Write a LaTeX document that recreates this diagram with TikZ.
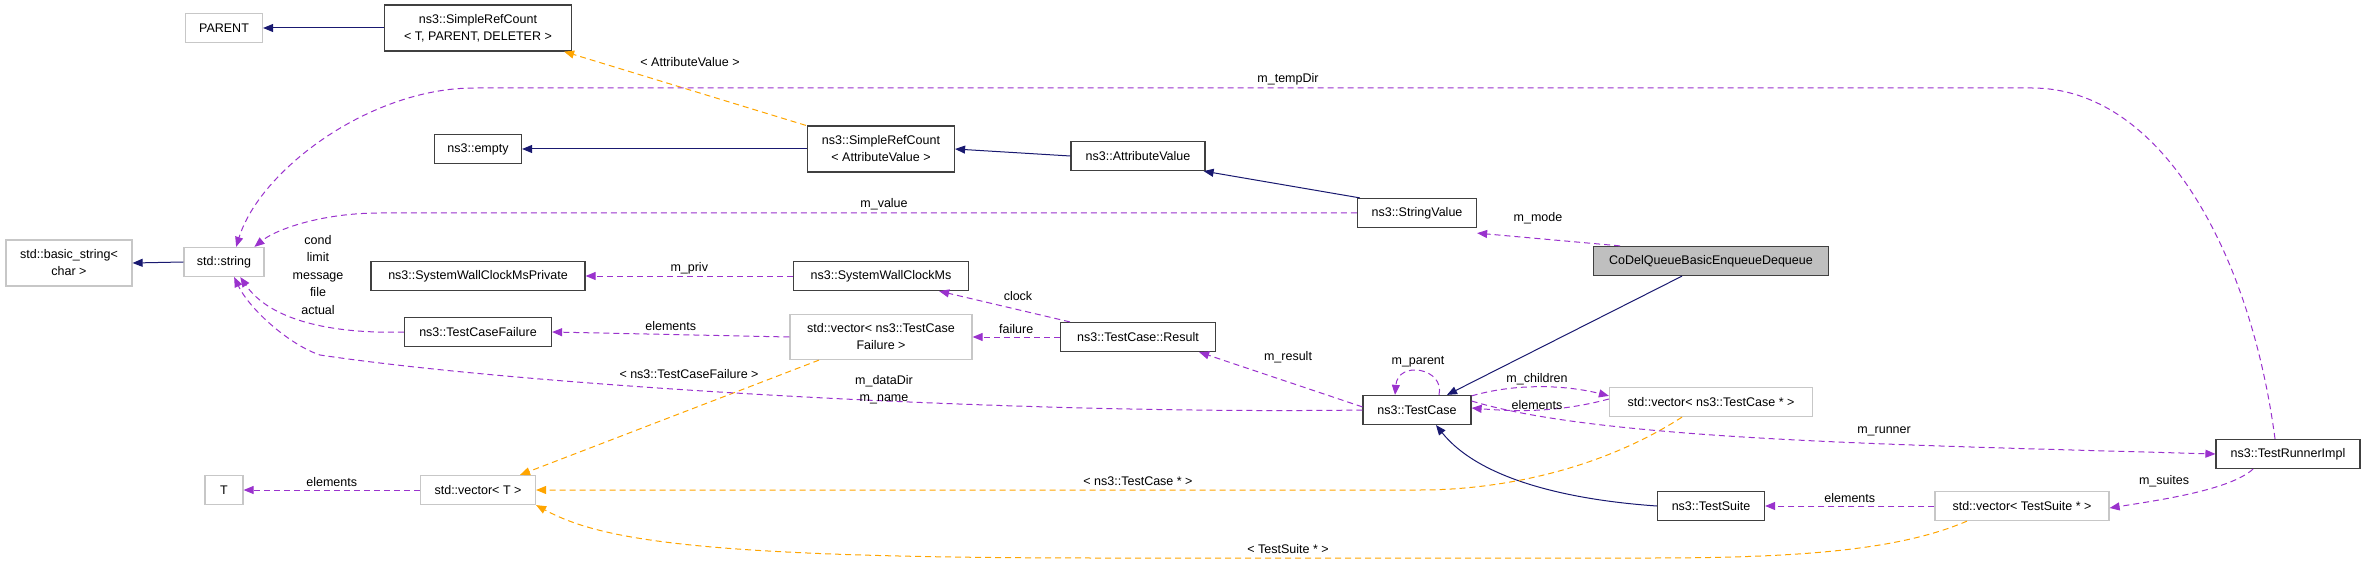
\documentclass[tikz,border=0pt]{standalone}
\usepackage{fontspec}
\setmainfont{Liberation Sans}
\usetikzlibrary{arrows.meta,calc}
\definecolor{nav}{HTML}{191970}
\definecolor{pur}{HTML}{9A32CD}
\definecolor{org}{HTML}{FFA500}
\begin{document}
\begin{tikzpicture}[x=1pt,y=-1pt,
  box/.style={draw=black!75,line width=1.2pt,fill=white,inner sep=0pt,minimum height=29,align=center,font=\fontsize{12.5}{17}\selectfont},
  ext/.style={box,draw=black!22},
  inh/.style={draw=nav,line width=1pt,-{Triangle[length=10pt,width=8pt]}},
  use/.style={draw=pur,line width=1pt,dash pattern=on 6pt off 4pt,-{Triangle[length=10pt,width=8pt]}},
  tpl/.style={draw=org,line width=1pt,dash pattern=on 6pt off 4pt,-{Triangle[length=10pt,width=8pt]}},
  lab/.style={font=\fontsize{12.5}{17}\selectfont,inner sep=1pt}]
\useasboundingbox (0,0) rectangle (2365,561);
\node[ext,minimum width=77] (par) at (224,28) {PARENT};
\node[box,minimum width=187,minimum height=46] (srct) at (478,28) {ns3::SimpleRefCount\\< T, PARENT, DELETER >};
\node[box,minimum width=87] (emp) at (478,149) {ns3::empty};
\node[box,minimum width=147,minimum height=46] (srca) at (881,149) {ns3::SimpleRefCount\\< AttributeValue >};
\node[box,minimum width=134] (av) at (1138,156) {ns3::AttributeValue};
\node[box,minimum width=119] (sv) at (1417,213) {ns3::StringValue};
\node[box,minimum width=235,fill=black!25] (cd) at (1711,261) {CoDelQueueBasicEnqueueDequeue};
\node[ext,minimum width=126,minimum height=46] (bs) at (69,263) {std::basic\_string<\\char >};
\node[ext,minimum width=80] (str) at (224,262) {std::string};
\node[box,minimum width=214] (swp) at (478,276) {ns3::SystemWallClockMsPrivate};
\node[box,minimum width=175] (sw) at (881,276) {ns3::SystemWallClockMs};
\node[box,minimum width=147] (tcf) at (478,332) {ns3::TestCaseFailure};
\node[ext,minimum width=182,minimum height=45] (vtcf) at (881,337) {std::vector< ns3::TestCase\\Failure >};
\node[box,minimum width=155] (res) at (1138,337) {ns3::TestCase::Result};
\node[box,minimum width=108] (tc) at (1417,410) {ns3::TestCase};
\node[ext,minimum width=203] (vtc) at (1711,402) {std::vector< ns3::TestCase * >};
\node[box,minimum width=144] (tri) at (2288,454) {ns3::TestRunnerImpl};
\node[ext,minimum width=38] (t) at (224,490) {T};
\node[ext,minimum width=115] (vt) at (478,490) {std::vector< T >};
\node[box,minimum width=107] (ts) at (1711,506) {ns3::TestSuite};
\node[ext,minimum width=174] (vts) at (2022,506) {std::vector< TestSuite * >};
% inheritance
\draw[inh] (srct.west) -- (par.east);
\draw[inh] (srca.west) -- (emp.east);
\draw[inh] (av.west) -- (srca.east);
\draw[inh] ([xshift=3]sv.north west) -- ([xshift=-2]av.south east);
\draw[inh] ([xshift=-29]cd.south) -- ([xshift=30]tc.north);
\draw[inh] (ts.west) .. controls (1570,500) and (1480,480) .. ([xshift=19]tc.south);
\draw[inh] (str.west) -- (bs.east);
% templates
\draw[tpl] ([xshift=-1]srca.north west) -- ([xshift=-8]srct.south east);
\node[lab] at (690,62) {< AttributeValue >};
\draw[tpl] ([xshift=-62]vtcf.south) -- ([xshift=42]vt.north);
\node[lab] at (689,374) {< ns3::TestCaseFailure >};
\draw[tpl] ([xshift=-29]vtc.south) .. controls (1600,470) and (1500,490) .. (1420,490) -- (vt.east);
\node[lab] at (1138,481) {< ns3::TestCase * >};
\draw[tpl] ([xshift=-55]vts.south) .. controls (1900,550) and (1800,558) .. (1650,558) -- (1100,558) .. controls (700,558) and (600,540) .. (vt.south east);
\node[lab] at (1288,549) {< TestSuite * >};
% usage
\draw[use] ([xshift=-13]tri.north) .. controls (2250,250) and (2160,88) .. (2032,88) -- (474,88) .. controls (370,88) and (260,170) .. ($(str.north)!0.3!(str.north east)$);
\node[lab] at (1288,79) {m\_tempDir};
\draw[use] (sv.west) -- (380,213) .. controls (320,213) and (275,230) .. ($(str.north)!0.75!(str.north east)$);
\node[lab] at (884,204) {m\_value};
\draw[use] ([xshift=-91]cd.north) -- ([yshift=-5]sv.south east);
\node[lab] at (1538,218) {m\_mode};
\draw[use] (tcf.west) .. controls (330,334) and (270,320) .. ($(str.south)!0.4!(str.south east)$);
\node[lab,align=center,font=\fontsize{12.5}{17.5}\selectfont] at (318,275) {cond\\limit\\message\\file\\actual};
\draw[use] (tc.west) .. controls (1000,415) and (520,385) .. (320,355) .. controls (290,345) and (250,310) .. ($(str.south)!0.25!(str.south east)$);
\node[lab,align=center,font=\fontsize{12.5}{17}\selectfont] at (884,390) {m\_dataDir\\m\_name};
\draw[use] (sw.west) -- (swp.east) node[lab,midway,above] {m\_priv};
\draw[use] (vtcf.west) -- (tcf.east) node[lab,midway,above=2pt] {elements};
\draw[use] (res.west) -- (vtcf.east) node[lab,midway,above=2pt] {failure};
\draw[use] ([xshift=10]res.north west) -- ([xshift=-30]sw.south east);
\node[lab] at (1018,296) {clock};
\draw[use] ([yshift=-12]tc.north west) -- ([xshift=-17]res.south east);
\node[lab] at (1288,357) {m\_result};
\draw[use] ([xshift=22]tc.north) .. controls (1445,368) and (1398,360) .. ([xshift=-22]tc.north);
\node[lab] at (1418,362) {m\_parent};
\draw[use] ([yshift=-1]tc.north east) .. controls (1520,382) and (1570,386) .. ([yshift=-9]vtc.north west);
\node[lab] at (1537,379) {m\_children};
\draw[use] ([yshift=3]vtc.west) .. controls (1560,412) and (1520,412) .. ([yshift=2]tc.east);
\node[lab] at (1537,405) {elements};
\draw[use] ([yshift=9]tc.east) .. controls (1600,440) and (1900,445) .. (tri.west);
\node[lab] at (1884,431) {m\_runner};
\draw[use] ([xshift=-35]tri.south) .. controls (2230,490) and (2160,500) .. ([yshift=-2]vts.east);
\node[lab] at (2164,481) {m\_suites};
\draw[use] (vts.west) -- (ts.east) node[lab,midway,above=2pt] {elements};
\draw[use] (vt.west) -- (t.east) node[lab,midway,above=2pt] {elements};
\end{tikzpicture}
\end{document}
